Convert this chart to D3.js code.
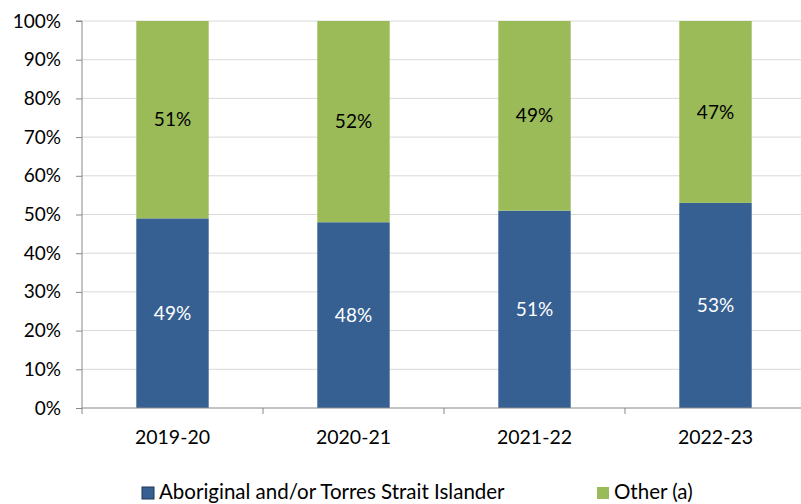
<!DOCTYPE html>
<html>
<head>
<meta charset="utf-8">
<script src="https://cdn.jsdelivr.net/npm/d3@7"></script>
<style>
  html, body { margin: 0; padding: 0; background: #fff; }
  svg { display: block; font-family: Lato, "Open Sans", sans-serif; }
</style>
</head>
<body>
<svg id="chart" width="801" height="504"></svg>
<script>
// Share of clients by Indigenous status, per financial year
const years = ["2019-20", "2020-21", "2021-22", "2022-23"];
const indigenous = [49, 48, 51, 53];
const other = [51, 52, 49, 47];
const yTicks = [0, 10, 20, 30, 40, 50, 60, 70, 80, 90, 100];
const seriesNames = ["Aboriginal and/or Torres Strait Islander", "Other (a)"];
const colors = ["#366092", "#9bbb59"];

const svg = d3.select("#chart");
const plot = { left: 82, right: 806, top: 21, bottom: 408 };

const x = d3.scaleBand().domain(years).range([plot.left, plot.right]).paddingInner(0).paddingOuter(0);
const y = d3.scaleLinear().domain([0, 100]).range([plot.bottom, plot.top]);
const barW = x.bandwidth() * 0.4;

// gridlines
svg.append("g").selectAll("line").data(yTicks.filter(d => d > 0)).join("line")
  .attr("x1", plot.left).attr("x2", plot.right)
  .attr("y1", d => y(d)).attr("y2", d => y(d))
  .attr("stroke", "#d9d9d9").attr("stroke-width", 1);

const rows = years.map((yr, i) => ({ year: yr, a: indigenous[i], o: other[i] }));

// stacked bars
const g = svg.append("g");
g.selectAll("rect.a").data(rows).join("rect")
  .attr("x", d => x(d.year) + (x.bandwidth() - barW) / 2)
  .attr("width", barW)
  .attr("y", d => y(d.a)).attr("height", d => y(0) - y(d.a))
  .attr("fill", colors[0]);
g.selectAll("rect.o").data(rows).join("rect")
  .attr("x", d => x(d.year) + (x.bandwidth() - barW) / 2)
  .attr("width", barW)
  .attr("y", d => y(d.a + d.o)).attr("height", d => y(d.a) - y(d.a + d.o))
  .attr("fill", colors[1]);

// value labels
g.selectAll("text.a").data(rows).join("text")
  .attr("x", d => x(d.year) + x.bandwidth() / 2)
  .attr("y", d => (y(0) + y(d.a)) / 2)
  .attr("dy", "0.35em").attr("text-anchor", "middle")
  .attr("font-size", 19).attr("fill", "#fff")
  .text(d => d.a + "%");
g.selectAll("text.o").data(rows).join("text")
  .attr("x", d => x(d.year) + x.bandwidth() / 2)
  .attr("y", d => (y(d.a) + y(d.a + d.o)) / 2)
  .attr("dy", "0.35em").attr("text-anchor", "middle")
  .attr("font-size", 19).attr("fill", "#000")
  .text(d => d.o + "%");

// y axis
const yAxis = svg.append("g").attr("transform", `translate(${plot.left},0)`)
  .call(d3.axisLeft(y).tickValues(yTicks).tickFormat(d => d + "%").tickSize(6).tickPadding(15));
yAxis.select(".domain").attr("stroke", "#888").attr("d", `M-6,${plot.top}H0V${plot.bottom}`);
yAxis.selectAll(".tick line").attr("stroke", "#888");
yAxis.selectAll(".tick text").attr("font-size", 19).attr("fill", "#000").attr("font-family", "Lato, sans-serif");

// x axis with boundary ticks between categories
const xAxis = svg.append("g").attr("transform", `translate(0,${plot.bottom})`);
xAxis.append("line").attr("x1", plot.left).attr("x2", plot.right).attr("y1", 0).attr("y2", 0).attr("stroke", "#888");
const bounds = years.map(d => x(d)).concat([plot.right]);
xAxis.selectAll("line.b").data(bounds).join("line")
  .attr("x1", d => d).attr("x2", d => d).attr("y1", 0).attr("y2", 6).attr("stroke", "#888");
xAxis.selectAll("text").data(years).join("text")
  .attr("x", d => x(d) + x.bandwidth() / 2).attr("y", 29.5)
  .attr("dy", "0.35em").attr("text-anchor", "middle")
  .attr("font-size", 19.5).attr("fill", "#000").text(d => d);

// legend
const legendX = [142, 597];
const lg = svg.append("g");
seriesNames.forEach((name, i) => {
  lg.append("rect").attr("x", legendX[i]).attr("y", 487).attr("width", 12).attr("height", 12)
    .attr("fill", colors[i]).attr("stroke", i === 0 ? "#1f3550" : "none").attr("stroke-width", 1);
  lg.append("text").attr("x", legendX[i] + 17).attr("y", 499)
    .attr("font-size", 20.5).attr("fill", "#000").text(name);
});
</script>
</body>
</html>
